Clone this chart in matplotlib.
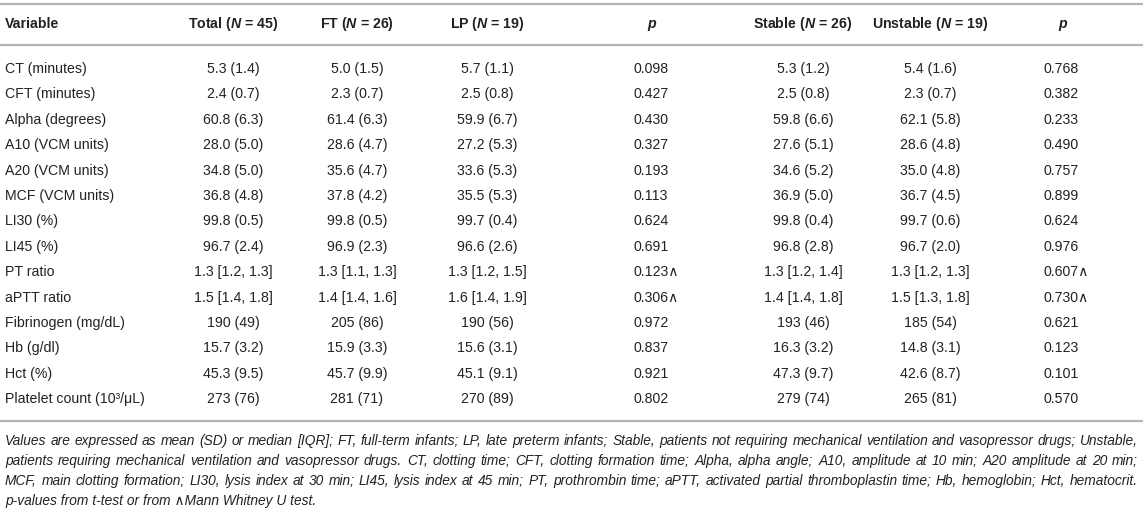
import matplotlib
matplotlib.use("Agg")
import matplotlib.pyplot as plt

plt.rcParams["font.family"] = ["Liberation Sans", "DejaVu Sans"]
plt.rcParams["mathtext.fontset"] = "custom"
plt.rcParams["mathtext.it"] = "Liberation Sans:bold:italic"
plt.rcParams["mathtext.rm"] = "Liberation Sans:bold"

# -----------------------------
# TABLE DATA
# -----------------------------
headers = ["Variable", "Total ($N$ = 45)", "FT ($N$ = 26)", "LP ($N$ = 19)", "p",
           "Stable ($N$ = 26)", "Unstable ($N$ = 19)", "p"]

variables = ["CT (minutes)", "CFT (minutes)", "Alpha (degrees)", "A10 (VCM units)",
             "A20 (VCM units)", "MCF (VCM units)", "LI30 (%)", "LI45 (%)", "PT ratio",
             "aPTT ratio", "Fibrinogen (mg/dL)", "Hb (g/dl)", "Hct (%)",
             "Platelet count (10³/\u03bcL)"]
total = ["5.3 (1.4)", "2.4 (0.7)", "60.8 (6.3)", "28.0 (5.0)", "34.8 (5.0)", "36.8 (4.8)",
         "99.8 (0.5)", "96.7 (2.4)", "1.3 [1.2, 1.3]", "1.5 [1.4, 1.8]", "190 (49)",
         "15.7 (3.2)", "45.3 (9.5)", "273 (76)"]
ft = ["5.0 (1.5)", "2.3 (0.7)", "61.4 (6.3)", "28.6 (4.7)", "35.6 (4.7)", "37.8 (4.2)",
      "99.8 (0.5)", "96.9 (2.3)", "1.3 [1.1, 1.3]", "1.4 [1.4, 1.6]", "205 (86)",
      "15.9 (3.3)", "45.7 (9.9)", "281 (71)"]
lp = ["5.7 (1.1)", "2.5 (0.8)", "59.9 (6.7)", "27.2 (5.3)", "33.6 (5.3)", "35.5 (5.3)",
      "99.7 (0.4)", "96.6 (2.6)", "1.3 [1.2, 1.5]", "1.6 [1.4, 1.9]", "190 (56)",
      "15.6 (3.1)", "45.1 (9.1)", "270 (89)"]
p_term = ["0.098", "0.427", "0.430", "0.327", "0.193", "0.113", "0.624", "0.691",
          "0.123\u2227", "0.306\u2227", "0.972", "0.837", "0.921", "0.802"]
stable = ["5.3 (1.2)", "2.5 (0.8)", "59.8 (6.6)", "27.6 (5.1)", "34.6 (5.2)", "36.9 (5.0)",
          "99.8 (0.4)", "96.8 (2.8)", "1.3 [1.2, 1.4]", "1.4 [1.4, 1.8]", "193 (46)",
          "16.3 (3.2)", "47.3 (9.7)", "279 (74)"]
unstable = ["5.4 (1.6)", "2.3 (0.7)", "62.1 (5.8)", "28.6 (4.8)", "35.0 (4.8)", "36.7 (4.5)",
            "99.7 (0.6)", "96.7 (2.0)", "1.3 [1.2, 1.3]", "1.5 [1.3, 1.8]", "185 (54)",
            "14.8 (3.1)", "42.6 (8.7)", "265 (81)"]
p_stab = ["0.768", "0.382", "0.233", "0.490", "0.757", "0.899", "0.624", "0.976",
          "0.607\u2227", "0.730\u2227", "0.621", "0.123", "0.101", "0.570"]

footnote = [
    "Values are expressed as mean (SD) or median [IQR]; FT, full-term infants; LP, late preterm infants; "
    "Stable, patients not requiring mechanical ventilation and vasopressor drugs; Unstable,",
    "patients requiring mechanical ventilation and vasopressor drugs. CT, clotting time; CFT, clotting "
    "formation time; Alpha, alpha angle; A10, amplitude at 10 min; A20 amplitude at 20 min;",
    "MCF, main clotting formation; LI30, lysis index at 30 min; LI45, lysis index at 45 min; PT, prothrombin "
    "time; aPTT, activated partial thromboplastin time; Hb, hemoglobin; Hct, hematocrit.",
    "p-values from t-test or from \u2227Mann Whitney U test.",
]

# -----------------------------
# LAYOUT (pixel coordinates)
# -----------------------------
W, H = 1143, 518
TXT = "#222222"
LINE = "#b4b4b4"
FS = 10.2

fig = plt.figure(figsize=(W / 100, H / 100), dpi=100)
ax = fig.add_axes([0, 0, 1, 1])
ax.set_xlim(0, W)
ax.set_ylim(H, 0)
ax.axis("off")

col_x = [5, 233, 357, 487, 652, 803, 930, 1063]
p_left = {4: 633, 7: 1044}
header_y = 24
row0, dy = 69, 25.4

for y in (4, 45, 421):
    ax.plot([0, W], [y, y], color=LINE, lw=1.6, solid_capstyle="butt")

for i, h in enumerate(headers):
    ha = "left" if i == 0 else "center"
    style = "italic" if h == "p" else "normal"
    ax.text(col_x[i], header_y, h, ha=ha, va="center", fontsize=FS,
            fontweight="bold", fontstyle=style, color=TXT)

columns = [variables, total, ft, lp, p_term, stable, unstable, p_stab]
for c, col in enumerate(columns):
    for r, val in enumerate(col):
        y = row0 + r * dy
        if c == 0:
            ax.text(col_x[0], y, val, ha="left", va="center", fontsize=FS, color=TXT)
        elif c in p_left:
            ax.text(p_left[c], y, val, ha="left", va="center", fontsize=FS, color=TXT)
        else:
            ax.text(col_x[c], y, val, ha="center", va="center", fontsize=FS, color=TXT)

# footnote: size the font so the longest line fills the width, then justify
renderer = fig.canvas.get_renderer()
left, right = 5, 1138
probe = ax.text(0, 0, "", fontsize=10, fontstyle="italic")
widest = 0
for line in footnote[:-1]:
    probe.set_text(line)
    widest = max(widest, probe.get_window_extent(renderer).width)
probe.remove()
fn_fs = 10 * (right - left) / widest

for k, line in enumerate(footnote):
    y = 441 + k * 20
    if k == len(footnote) - 1:
        ax.text(left, y, line, ha="left", va="center", fontsize=fn_fs,
                fontstyle="italic", color=TXT)
        continue
    words = line.split(" ")
    arts = [ax.text(0, y, w, ha="left", va="center", fontsize=fn_fs,
                    fontstyle="italic", color=TXT) for w in words]
    widths = [a.get_window_extent(renderer).width for a in arts]
    gap = (right - left - sum(widths)) / (len(words) - 1)
    x = left
    for a, w in zip(arts, widths):
        a.set_x(x)
        x += w + gap

fig.savefig("out.png", dpi=100)
